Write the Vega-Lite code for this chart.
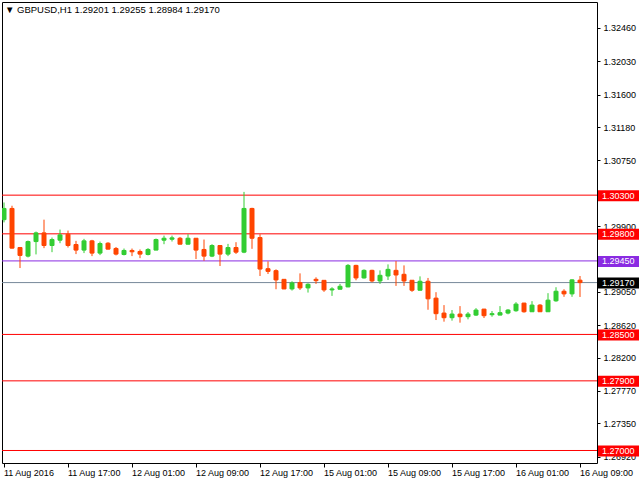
{
  "$schema": "https://vega.github.io/schema/vega-lite/v6.json",
  "width": 595,
  "height": 461,
  "autosize": {"type": "none"},
  "padding": {"left": 2, "top": 2, "right": 43, "bottom": 17},
  "background": "#FFFFFF",
  "config": {
    "view": {"stroke": "#000000", "strokeWidth": 1},
    "font": "Liberation Sans",
    "axis": {"grid": false, "domain": false, "title": null, "tickColor": "#000000", "labelColor": "#000000", "labelFont": "Liberation Sans", "labelFontSize": 9}
  },
  "title": {
    "text": "▼ GBPUSD,H1  1.29201 1.29255 1.28984 1.29170",
    "anchor": "start",
    "frame": "group",
    "orient": "top",
    "offset": -12,
    "dx": 3,
    "font": "Liberation Sans",
    "fontSize": 9.5,
    "fontWeight": "normal",
    "color": "#000000"
  },
  "datasets": {
    "candles": [
      {"t": "11 Aug 09:00", "o": 1.29983, "h": 1.30205, "l": 1.29948, "c": 1.30128},
      {"t": "11 Aug 10:00", "o": 1.30128, "h": 1.30163, "l": 1.29610, "c": 1.29615},
      {"t": "11 Aug 11:00", "o": 1.29623, "h": 1.29630, "l": 1.29358, "c": 1.29521},
      {"t": "11 Aug 12:00", "o": 1.29512, "h": 1.29713, "l": 1.29495, "c": 1.29700},
      {"t": "11 Aug 13:00", "o": 1.29700, "h": 1.29829, "l": 1.29534, "c": 1.29812},
      {"t": "11 Aug 14:00", "o": 1.29812, "h": 1.29983, "l": 1.29615, "c": 1.29649},
      {"t": "11 Aug 15:00", "o": 1.29649, "h": 1.29752, "l": 1.29563, "c": 1.29726},
      {"t": "11 Aug 16:00", "o": 1.29718, "h": 1.29855, "l": 1.29679, "c": 1.29786},
      {"t": "11 Aug 17:00", "o": 1.29795, "h": 1.29842, "l": 1.29623, "c": 1.29649},
      {"t": "11 Aug 18:00", "o": 1.29662, "h": 1.29709, "l": 1.29538, "c": 1.29590},
      {"t": "11 Aug 19:00", "o": 1.29590, "h": 1.29735, "l": 1.29551, "c": 1.29709},
      {"t": "11 Aug 20:00", "o": 1.29709, "h": 1.29722, "l": 1.29512, "c": 1.29551},
      {"t": "11 Aug 21:00", "o": 1.29551, "h": 1.29700, "l": 1.29525, "c": 1.29675},
      {"t": "11 Aug 22:00", "o": 1.29679, "h": 1.29692, "l": 1.29598, "c": 1.29602},
      {"t": "11 Aug 23:00", "o": 1.29611, "h": 1.29630, "l": 1.29521, "c": 1.29538},
      {"t": "12 Aug 00:00", "o": 1.29533, "h": 1.29610, "l": 1.29521, "c": 1.29585},
      {"t": "12 Aug 01:00", "o": 1.29585, "h": 1.29610, "l": 1.29512, "c": 1.29568},
      {"t": "12 Aug 02:00", "o": 1.29572, "h": 1.29598, "l": 1.29486, "c": 1.29538},
      {"t": "12 Aug 03:00", "o": 1.29533, "h": 1.29615, "l": 1.29521, "c": 1.29598},
      {"t": "12 Aug 04:00", "o": 1.29590, "h": 1.29739, "l": 1.29588, "c": 1.29726},
      {"t": "12 Aug 05:00", "o": 1.29718, "h": 1.29777, "l": 1.29666, "c": 1.29743},
      {"t": "12 Aug 06:00", "o": 1.29730, "h": 1.29777, "l": 1.29701, "c": 1.29748},
      {"t": "12 Aug 07:00", "o": 1.29743, "h": 1.29760, "l": 1.29664, "c": 1.29666},
      {"t": "12 Aug 08:00", "o": 1.29666, "h": 1.29795, "l": 1.29662, "c": 1.29743},
      {"t": "12 Aug 09:00", "o": 1.29743, "h": 1.29745, "l": 1.29474, "c": 1.29590},
      {"t": "12 Aug 10:00", "o": 1.29598, "h": 1.29726, "l": 1.29452, "c": 1.29512},
      {"t": "12 Aug 11:00", "o": 1.29512, "h": 1.29666, "l": 1.29499, "c": 1.29649},
      {"t": "12 Aug 12:00", "o": 1.29649, "h": 1.29652, "l": 1.29384, "c": 1.29538},
      {"t": "12 Aug 13:00", "o": 1.29538, "h": 1.29670, "l": 1.29512, "c": 1.29623},
      {"t": "12 Aug 14:00", "o": 1.29623, "h": 1.29692, "l": 1.29540, "c": 1.29563},
      {"t": "12 Aug 15:00", "o": 1.29563, "h": 1.30342, "l": 1.29550, "c": 1.30128},
      {"t": "12 Aug 16:00", "o": 1.30128, "h": 1.30137, "l": 1.29606, "c": 1.29743},
      {"t": "12 Aug 17:00", "o": 1.29752, "h": 1.29795, "l": 1.29255, "c": 1.29345},
      {"t": "12 Aug 18:00", "o": 1.29349, "h": 1.29444, "l": 1.29281, "c": 1.29315},
      {"t": "12 Aug 19:00", "o": 1.29324, "h": 1.29341, "l": 1.29084, "c": 1.29204},
      {"t": "12 Aug 20:00", "o": 1.29212, "h": 1.29215, "l": 1.29085, "c": 1.29088},
      {"t": "12 Aug 21:00", "o": 1.29088, "h": 1.29187, "l": 1.29067, "c": 1.29165},
      {"t": "12 Aug 22:00", "o": 1.29170, "h": 1.29289, "l": 1.29075, "c": 1.29101},
      {"t": "12 Aug 23:00", "o": 1.29101, "h": 1.29161, "l": 1.29041, "c": 1.29148},
      {"t": "15 Aug 00:00", "o": 1.29212, "h": 1.29238, "l": 1.29153, "c": 1.29195},
      {"t": "15 Aug 01:00", "o": 1.29199, "h": 1.29202, "l": 1.29050, "c": 1.29075},
      {"t": "15 Aug 02:00", "o": 1.29075, "h": 1.29110, "l": 1.28998, "c": 1.29088},
      {"t": "15 Aug 03:00", "o": 1.29084, "h": 1.29153, "l": 1.29082, "c": 1.29122},
      {"t": "15 Aug 04:00", "o": 1.29114, "h": 1.29409, "l": 1.29110, "c": 1.29392},
      {"t": "15 Aug 05:00", "o": 1.29392, "h": 1.29400, "l": 1.29200, "c": 1.29230},
      {"t": "15 Aug 06:00", "o": 1.29230, "h": 1.29341, "l": 1.29222, "c": 1.29328},
      {"t": "15 Aug 07:00", "o": 1.29328, "h": 1.29336, "l": 1.29174, "c": 1.29191},
      {"t": "15 Aug 08:00", "o": 1.29191, "h": 1.29328, "l": 1.29153, "c": 1.29264},
      {"t": "15 Aug 09:00", "o": 1.29255, "h": 1.29405, "l": 1.29204, "c": 1.29341},
      {"t": "15 Aug 10:00", "o": 1.29328, "h": 1.29448, "l": 1.29127, "c": 1.29268},
      {"t": "15 Aug 11:00", "o": 1.29277, "h": 1.29392, "l": 1.29127, "c": 1.29191},
      {"t": "15 Aug 12:00", "o": 1.29200, "h": 1.29202, "l": 1.29050, "c": 1.29071},
      {"t": "15 Aug 13:00", "o": 1.29071, "h": 1.29250, "l": 1.29069, "c": 1.29187},
      {"t": "15 Aug 14:00", "o": 1.29187, "h": 1.29230, "l": 1.28819, "c": 1.28960},
      {"t": "15 Aug 15:00", "o": 1.28969, "h": 1.29046, "l": 1.28686, "c": 1.28768},
      {"t": "15 Aug 16:00", "o": 1.28776, "h": 1.28879, "l": 1.28665, "c": 1.28716},
      {"t": "15 Aug 17:00", "o": 1.28716, "h": 1.28815, "l": 1.28678, "c": 1.28763},
      {"t": "15 Aug 18:00", "o": 1.28763, "h": 1.28866, "l": 1.28652, "c": 1.28729},
      {"t": "15 Aug 19:00", "o": 1.28729, "h": 1.28789, "l": 1.28695, "c": 1.28763},
      {"t": "15 Aug 20:00", "o": 1.28750, "h": 1.28840, "l": 1.28738, "c": 1.28815},
      {"t": "15 Aug 21:00", "o": 1.28827, "h": 1.28830, "l": 1.28712, "c": 1.28742},
      {"t": "15 Aug 22:00", "o": 1.28755, "h": 1.28802, "l": 1.28729, "c": 1.28768},
      {"t": "15 Aug 23:00", "o": 1.28750, "h": 1.28866, "l": 1.28748, "c": 1.28781},
      {"t": "16 Aug 00:00", "o": 1.28776, "h": 1.28827, "l": 1.28760, "c": 1.28815},
      {"t": "16 Aug 01:00", "o": 1.28806, "h": 1.28917, "l": 1.28793, "c": 1.28892},
      {"t": "16 Aug 02:00", "o": 1.28905, "h": 1.28908, "l": 1.28781, "c": 1.28793},
      {"t": "16 Aug 03:00", "o": 1.28793, "h": 1.28930, "l": 1.28791, "c": 1.28879},
      {"t": "16 Aug 04:00", "o": 1.28879, "h": 1.28892, "l": 1.28790, "c": 1.28793},
      {"t": "16 Aug 05:00", "o": 1.28793, "h": 1.29033, "l": 1.28791, "c": 1.28943},
      {"t": "16 Aug 06:00", "o": 1.28934, "h": 1.29110, "l": 1.28922, "c": 1.29058},
      {"t": "16 Aug 07:00", "o": 1.29058, "h": 1.29084, "l": 1.28986, "c": 1.29024},
      {"t": "16 Aug 08:00", "o": 1.29024, "h": 1.29213, "l": 1.28986, "c": 1.29205},
      {"t": "16 Aug 09:00", "o": 1.29201, "h": 1.29255, "l": 1.28984, "c": 1.29170}
    ],
    "levels": [
      {"p": 1.30300, "kind": "level"},
      {"p": 1.29800, "kind": "level"},
      {"p": 1.29450, "kind": "pivot"},
      {"p": 1.29170, "kind": "bid"},
      {"p": 1.28500, "kind": "level"},
      {"p": 1.27900, "kind": "level"},
      {"p": 1.27000, "kind": "level"}
    ]
  },
  "layer": [
    {
      "data": {"name": "levels"},
      "mark": {"type": "rule", "strokeWidth": 1},
      "encoding": {
        "y": {
          "field": "p", "type": "quantitative",
          "scale": {"domain": [1.268384, 1.32796], "nice": false, "zero": false},
          "axis": {
            "orient": "right",
            "values": [1.3246, 1.3203, 1.316, 1.3118, 1.3075, 1.299, 1.2905, 1.2862, 1.282, 1.2777, 1.2735, 1.2692],
            "format": ".5f",
            "tickSize": 3,
            "labelPadding": 3,
            "labelBaseline": "middle"
          }
        },
        "color": {
          "field": "kind",
          "type": "nominal",
          "scale": {"domain": ["level", "pivot", "bid"], "range": ["#FF0000", "#8A2BE2", "#778899"]},
          "legend": null
        }
      }
    },
    {
      "data": {"name": "candles"},
      "mark": {"type": "rule", "strokeWidth": 1, "clip": true},
      "encoding": {
        "x": {
          "field": "t", "type": "ordinal", "sort": null,
          "scale": {"type": "band", "range": [-2, 582], "paddingInner": 0, "paddingOuter": 0},
          "axis": {
            "orient": "bottom",
            "values": ["11 Aug 09:00", "11 Aug 17:00", "12 Aug 01:00", "12 Aug 09:00", "12 Aug 17:00", "15 Aug 01:00", "15 Aug 09:00", "15 Aug 17:00", "16 Aug 01:00", "16 Aug 09:00"],
            "labelExpr": "datum.value == '11 Aug 09:00' ? '11 Aug 2016' : datum.value",
            "labelAngle": 0,
            "labelAlign": "left",
            "labelBaseline": "top",
            "labelOverlap": false,
            "labelBound": false,
            "labelFlush": false,
            "tickSize": 4,
            "labelPadding": 1
          }
        },
        "y": {"field": "l", "type": "quantitative"},
        "y2": {"field": "h"},
        "stroke": {"condition": {"test": "datum.c >= datum.o", "value": "#32CD32"}, "value": "#FF4500"}
      }
    },
    {
      "data": {"name": "candles"},
      "mark": {"type": "bar", "width": 4, "strokeWidth": 1, "clip": true},
      "encoding": {
        "x": {"field": "t", "type": "ordinal", "sort": null},
        "y": {"field": "o", "type": "quantitative"},
        "y2": {"field": "c"},
        "fill": {"condition": {"test": "datum.c >= datum.o", "value": "#32CD32"}, "value": "#FF4500"},
        "stroke": {"condition": {"test": "datum.c >= datum.o", "value": "#32CD32"}, "value": "#FF4500"}
      }
    },
    {
      "data": {"name": "levels"},
      "mark": {"type": "rect", "clip": false, "xOffset": 1, "x2Offset": 42, "yOffset": -5, "y2Offset": 6},
      "encoding": {
        "x": {"value": "width"},
        "x2": {"value": "width"},
        "y": {"field": "p", "type": "quantitative"},
        "y2": {"field": "p"},
        "fill": {
          "field": "kind",
          "type": "nominal",
          "scale": {"domain": ["level", "pivot", "bid"], "range": ["#FF0000", "#8A2BE2", "#000000"]},
          "legend": null
        }
      }
    },
    {
      "data": {"name": "levels"},
      "mark": {"type": "text", "clip": false, "align": "left", "baseline": "middle", "dx": 5, "dy": 0.5, "font": "Liberation Sans", "fontSize": 9, "fill": "#FFFFFF"},
      "encoding": {
        "x": {"value": "width"},
        "y": {"field": "p", "type": "quantitative"},
        "text": {"field": "p", "type": "quantitative", "format": ".5f"}
      }
    }
  ]
}
